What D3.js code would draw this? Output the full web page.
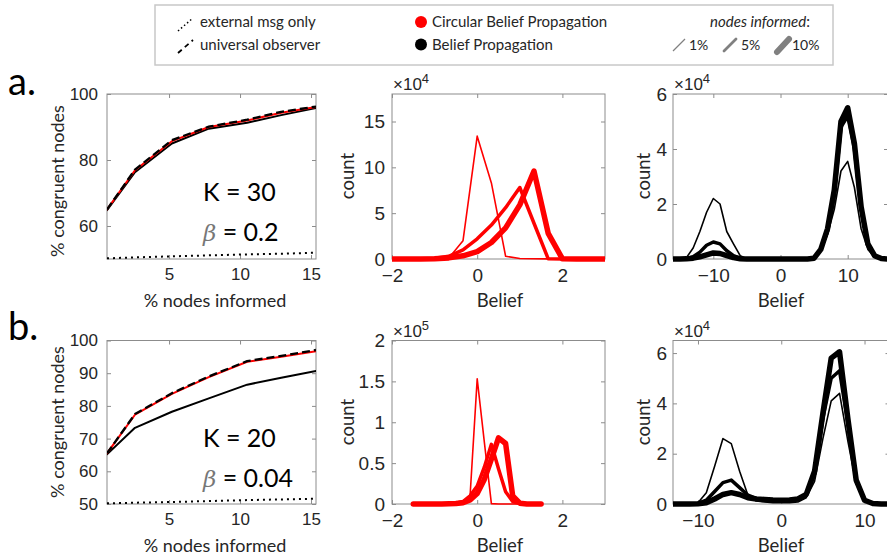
<!DOCTYPE html>
<html><head><meta charset="utf-8">
<script src="https://cdn.jsdelivr.net/npm/d3@7"></script>
<style>body{margin:0;background:#fff}svg{display:block}</style>
</head><body><svg id="c" width="887" height="559"></svg>
<script>
// ---------- DATA ----------
const pctInformed = [0.63, 2.6, 5.2, 7.8, 10.5, 12.9, 15.35];
// row a (K = 30, beta = 0.2)
const aBP  = [64.8, 76.3, 85.0, 89.5, 91.3, 93.6, 95.8];
const aCBP = [65.0, 76.9, 85.7, 90.0, 92.0, 94.3, 96.1];
const aUO  = [65.0, 77.1, 86.0, 90.1, 92.2, 94.6, 96.2];
const aExt = [50.2, 50.5, 50.8, 51.1, 51.4, 51.6, 51.9];
// row b (K = 20, beta = 0.04)
const bBP  = [65.2, 73.3, 78.2, 82.3, 86.5, 88.6, 90.7];
const bCBP = [65.5, 77.3, 83.7, 88.8, 93.5, 95.0, 96.7];
const bUO  = [65.5, 77.5, 83.9, 89.0, 93.7, 95.3, 97.1];
const bExt = [50.2, 50.4, 50.6, 50.9, 51.2, 51.4, 51.6];

// histograms, CBP row a (x10^4)
const aCbpBelief = [-2, -1.667, -1.333, -1, -0.667, -0.333, 0, 0.333, 0.667, 1, 1.333, 1.667, 2, 2.333, 2.667, 3];
const aCbp1  = [0, 0, 0, 0.01, 0.1, 2.0, 13.4, 8.3, 0.3, 0.05, 0.02, 0.01, 0, 0, 0, 0];
const aCbp5  = [0, 0, 0.02, 0.08, 0.3, 1.0, 2.2, 3.7, 5.6, 7.8, 3.9, 0.02, 0, 0, 0, 0];
const aCbp10 = [0, 0, 0.01, 0.04, 0.12, 0.35, 0.8, 1.8, 3.4, 5.9, 9.6, 2.8, 0.02, 0, 0, 0];
// histograms, BP row a (x10^4)
const aBpBelief = [-16,-15,-14,-13,-12,-11,-10,-9,-8,-7,-6,-5,-4,-3,-2,-1,0,1,2,3,4,5,6,7,8,9,10,11,12,13,14,15,16];
const aBp1  = [0,0,0.05,0.4,1.0,1.7,2.2,2.0,1.0,0.55,0.12,0.01,0,0,0,0,0,0,0,0,0,0.02,0.3,0.9,1.8,3.2,3.55,2.6,1.1,0.35,0.08,0.01,0];
const aBp5  = [0,0,0.01,0.08,0.25,0.5,0.62,0.55,0.3,0.12,0.03,0,0,0,0,0,0,0,0,0,0,0.03,0.35,1.0,2.3,4.8,5.2,4.0,1.8,0.5,0.1,0.02,0];
const aBp10 = [0,0,0.005,0.03,0.08,0.15,0.22,0.2,0.12,0.05,0.01,0,0,0,0,0,0,0,0,0,0,0.03,0.35,1.1,2.5,5.0,5.5,4.2,1.9,0.55,0.12,0.02,0];
// histograms, CBP row b (x10^5)
const bCbpBelief = [-1.5,-1.333,-1.167,-1,-0.833,-0.667,-0.5,-0.333,-0.167,0,0.167,0.333,0.5,0.667,0.833,1,1.167,1.333,1.5];
const bCbp1  = [0,0,0,0,0,0,0,0.002,0.1,1.53,0.76,0.005,0,0,0,0,0,0,0];
const bCbp5  = [0,0,0,0,0,0.003,0.01,0.03,0.1,0.22,0.45,0.73,0.43,0.15,0.03,0.005,0,0,0];
const bCbp10 = [0,0,0,0,0,0.002,0.005,0.015,0.05,0.13,0.3,0.55,0.81,0.74,0.1,0.01,0,0,0];
// histograms, BP row b (x10^4)
const bBpBelief = [-13,-12,-11,-10,-9,-8,-7,-6,-5,-4,-3,-2,-1,0,1,2,3,4,5,6,7,8,9,10,11,12,13];
const bBp1  = [0,0,0,0.05,0.45,1.5,2.6,2.4,1.3,0.35,0.12,0.08,0.05,0.05,0.05,0.08,0.25,0.9,2.6,4.1,4.4,2.5,0.8,0.15,0.02,0,0];
const bBp5  = [0,0,0,0.02,0.15,0.5,0.85,0.95,0.65,0.35,0.22,0.18,0.15,0.15,0.15,0.18,0.35,1.2,3.4,5.0,5.3,3.2,0.9,0.15,0.02,0,0];
const bBp10 = [0,0,0,0.01,0.05,0.2,0.38,0.45,0.38,0.25,0.2,0.18,0.16,0.15,0.16,0.2,0.38,1.3,3.6,5.8,6.05,3.4,0.95,0.15,0.02,0,0];

const pctTicks = [5, 10, 15];
const aCongTicks = [60, 80, 100];
const bCongTicks = [50, 60, 70, 80, 90, 100];
const cbpBeliefTicks = [-2, 0, 2];
const bpBeliefTicks = [-10, 0, 10];
const aCbpCountTicks = [0, 5, 10, 15];
const aBpCountTicks = [0, 2, 4, 6];
const bCbpCountTicks = [0, 0.5, 1, 1.5, 2];
const bBpCountTicks = [0, 2, 4, 6];

// ---------- DRAW ----------
const svg = d3.select("#c");
svg.append("rect").attr("width",887).attr("height",559).attr("fill","#fff");
const AX = "#8c8c8c", TXT = "#262626";
const tickFont = "'Liberation Sans', Arial, sans-serif";
const labFont = "Lato, 'Open Sans', sans-serif";
let clipId = 0;

function panel(o) {
  const x = d3.scaleLinear().domain(o.xd).range([o.x0, o.x1]);
  const y = d3.scaleLinear().domain(o.yd).range([o.y1, o.y0]);
  const g = svg.append("g");
  const id = "clip" + (clipId++);
  svg.append("clipPath").attr("id", id).append("rect")
    .attr("x", o.x0).attr("y", o.y0 - 3).attr("width", o.x1 - o.x0).attr("height", o.y1 - o.y0 + 6);
  const style = sel => {
    sel.attr("font-size", null).attr("font-family", null);
    sel.select(".domain").remove();
    sel.selectAll(".tick line").attr("stroke", AX);
    sel.selectAll("text").attr("fill", TXT).style("font-family", tickFont).style("font-size", o.tfs + "px");
  };
  g.append("g").attr("transform", `translate(0,${o.y1})`)
    .call(d3.axisBottom(x).tickValues(o.xt).tickSize(-4).tickPadding(o.xpad).tickFormat(d3.format("")))
    .call(style);
  g.append("g").attr("transform", `translate(0,${o.y0})`)
    .call(d3.axisTop(x).tickValues(o.xt).tickSize(-4).tickFormat(""))
    .call(style);
  g.append("g").attr("transform", `translate(${o.x0},0)`)
    .call(d3.axisLeft(y).tickValues(o.yt).tickSize(-4).tickPadding(o.ypad).tickFormat(d3.format("")))
    .call(style);
  g.append("g").attr("transform", `translate(${o.x1},0)`)
    .call(d3.axisRight(y).tickValues(o.yt).tickSize(-4).tickFormat(""))
    .call(style);
  g.append("rect").attr("x", o.x0).attr("y", o.y0).attr("width", o.x1 - o.x0).attr("height", o.y1 - o.y0)
    .attr("fill", "none").attr("stroke", AX).attr("stroke-width", 1);
  const plot = svg.append("g").attr("clip-path", `url(#${id})`);
  svg.append("text").attr("x", o.xlx).attr("y", o.y1 + 48)
    .attr("text-anchor", "middle").style("font-family", labFont).style("font-size", o.lfs + "px").attr("fill", TXT).text(o.xl);
  svg.append("text").attr("transform", `translate(${o.x0 - o.ylOff},${o.ylc}) rotate(-90)`)
    .attr("text-anchor", "middle").attr("dy", "0.35em").style("font-family", labFont).style("font-size", o.lfs + "px").attr("fill", TXT).text(o.yl);
  if (o.exp) {
    const t = svg.append("text").attr("x", o.x0 + 1).attr("y", o.y0 - 4).attr("fill", TXT)
      .style("font-family", tickFont).style("font-size", "17px");
    t.append("tspan").text("\u00d710");
    t.append("tspan").attr("dy", -7).style("font-size", "13px").text(o.exp);
  }
  return {x, y, plot};
}

function lines(p, xs, series) {
  series.forEach(s => {
    p.plot.append("path").datum(s.v)
      .attr("d", d3.line().x((d, i) => p.x(xs[i])).y(d => p.y(d)))
      .attr("fill", "none").attr("stroke", s.c).attr("stroke-width", s.w)
      .attr("stroke-dasharray", s.dash || null)
      .attr("stroke-linejoin", "round").attr("stroke-linecap", s.cap || "round");
  });
}

const rows = [{y0: 94, y1: 259}, {y0: 340.5, y1: 504}];

// Row a
const pA1 = panel({x0:107, x1:316, y0:rows[0].y0, y1:rows[0].y1, xd:[0.63,15.35], yd:[50,100], xt:pctTicks, yt:aCongTicks,
  xl:"% nodes informed", xlx:215, yl:"% congruent nodes", ylOff:49, ylc:181, tfs:17, lfs:18, xpad:9, ypad:9});
lines(pA1, pctInformed, [
  {v:aExt, c:"#000", w:2, dash:"2,4", cap:"butt"},
  {v:aBP, c:"#000", w:2},
  {v:aCBP, c:"#ff0000", w:2},
  {v:aUO, c:"#000", w:2.3, dash:"8,4", cap:"butt"}
]);
const pA2 = panel({x0:392, x1:605, y0:rows[0].y0, y1:rows[0].y1, xd:[-2,3], yd:[0,18], xt:cbpBeliefTicks, yt:aCbpCountTicks,
  xl:"Belief", xlx:500, yl:"count", ylOff:44, ylc:176, exp:"4", tfs:19, lfs:18.5, xpad:10, ypad:7});
lines(pA2, aCbpBelief, [
  {v:aCbp10, c:"#ff0000", w:5.5},
  {v:aCbp5, c:"#ff0000", w:3.5},
  {v:aCbp1, c:"#ff0000", w:1.6}
]);
const pA3 = panel({x0:673, x1:888, y0:rows[0].y0, y1:rows[0].y1, xd:[-16,16], yd:[0,6], xt:bpBeliefTicks, yt:aBpCountTicks,
  xl:"Belief", xlx:781, yl:"count", ylOff:29, ylc:176, exp:"4", tfs:19, lfs:18.5, xpad:10, ypad:6});
lines(pA3, aBpBelief, [
  {v:aBp10, c:"#000", w:5.5},
  {v:aBp5, c:"#000", w:3.5},
  {v:aBp1, c:"#000", w:1.6}
]);

// Row b
const pB1 = panel({x0:107, x1:316, y0:rows[1].y0, y1:rows[1].y1, xd:[0.63,15.35], yd:[50,100], xt:pctTicks, yt:bCongTicks,
  xl:"% nodes informed", xlx:215, yl:"% congruent nodes", ylOff:49, ylc:422, tfs:17, lfs:18, xpad:9, ypad:9});
lines(pB1, pctInformed, [
  {v:bExt, c:"#000", w:2, dash:"2,4", cap:"butt"},
  {v:bBP, c:"#000", w:2},
  {v:bCBP, c:"#ff0000", w:2},
  {v:bUO, c:"#000", w:2.3, dash:"8,4", cap:"butt"}
]);
const pB2 = panel({x0:392, x1:605, y0:rows[1].y0, y1:rows[1].y1, xd:[-2,3], yd:[0,2], xt:cbpBeliefTicks, yt:bCbpCountTicks,
  xl:"Belief", xlx:500, yl:"count", ylOff:44, ylc:422, exp:"5", tfs:19, lfs:18.5, xpad:10, ypad:7});
lines(pB2, bCbpBelief, [
  {v:bCbp10, c:"#ff0000", w:5.5},
  {v:bCbp5, c:"#ff0000", w:3.5},
  {v:bCbp1, c:"#ff0000", w:1.6}
]);
const pB3 = panel({x0:673, x1:889.5, y0:rows[1].y0, y1:rows[1].y1, xd:[-13,13], yd:[0,6.5], xt:bpBeliefTicks, yt:bBpCountTicks,
  xl:"Belief", xlx:781, yl:"count", ylOff:29, ylc:422, exp:"4", tfs:19, lfs:18.5, xpad:10, ypad:6});
lines(pB3, bBpBelief, [
  {v:bBp10, c:"#000", w:5.5},
  {v:bBp5, c:"#000", w:3.5},
  {v:bBp1, c:"#000", w:1.6}
]);

// annotations
function annot(px, yK, kTxt, bTxt) {
  svg.append("text").attr("x", px).attr("y", yK).style("font-family", labFont).style("font-size", "25px").attr("fill", "#000").text(kTxt);
  const t = svg.append("text").attr("x", px).attr("y", yK + 40).style("font-family", labFont).style("font-size", "25px").attr("fill", "#000");
  t.append("tspan").attr("fill", "#777").style("font-style", "italic").style("font-family", "'DejaVu Serif', serif").style("font-size", "23px").text("\u03b2");
  t.append("tspan").text(" = " + bTxt);
}
annot(203, 201, "K = 30", "0.2");
annot(203, 447, "K = 20", "0.04");

svg.append("text").attr("x", 8).attr("y", 95).style("font-family", labFont).style("font-size", "38px").attr("fill", "#000").text("a.");
svg.append("text").attr("x", 8).attr("y", 340).style("font-family", labFont).style("font-size", "38px").attr("fill", "#000").text("b.");

// legend
const lg = svg.append("g");
lg.append("rect").attr("x", 155).attr("y", 5).attr("width", 678).attr("height", 60).attr("fill", "#fff").attr("stroke", "#c8c8c8").attr("stroke-width", 1.5);
const lf = s => s.style("font-family", labFont).style("font-size", "15px").attr("fill", TXT);
lg.append("line").attr("x1", 178).attr("y1", 31).attr("x2", 193).attr("y2", 18).attr("stroke", "#000").attr("stroke-width", 1.5).attr("stroke-dasharray", "1.5,2.5");
lg.append("text").attr("x", 200).attr("y", 27).call(lf).text("external msg only");
lg.append("line").attr("x1", 178).attr("y1", 53).attr("x2", 193).attr("y2", 40).attr("stroke", "#000").attr("stroke-width", 1.8).attr("stroke-dasharray", "5,4");
lg.append("text").attr("x", 200).attr("y", 50).call(lf).text("universal observer");
lg.append("circle").attr("cx", 421).attr("cy", 22).attr("r", 6).attr("fill", "#ff0000");
lg.append("text").attr("x", 432).attr("y", 27).call(lf).text("Circular Belief Propagation");
lg.append("circle").attr("cx", 421).attr("cy", 44.5).attr("r", 6).attr("fill", "#000");
lg.append("text").attr("x", 432).attr("y", 49.5).call(lf).text("Belief Propagation");
const ni = lg.append("text").attr("x", 760).attr("y", 27).attr("text-anchor", "middle").call(lf);
ni.append("tspan").style("font-style", "italic").text("nodes informed");
ni.append("tspan").text(":");
lg.append("line").attr("x1", 673).attr("y1", 51).attr("x2", 685).attr("y2", 39).attr("stroke", "#808080").attr("stroke-width", 1.2);
lg.append("text").attr("x", 689).attr("y", 49.5).call(lf).style("font-size", "14px").text("1%");
lg.append("line").attr("x1", 724).attr("y1", 51).attr("x2", 736).attr("y2", 39).attr("stroke", "#808080").attr("stroke-width", 2.8).attr("stroke-linecap", "round");
lg.append("text").attr("x", 741).attr("y", 49.5).call(lf).style("font-size", "14px").text("5%");
lg.append("line").attr("x1", 777).attr("y1", 52).attr("x2", 789).attr("y2", 39).attr("stroke", "#808080").attr("stroke-width", 6).attr("stroke-linecap", "round");
lg.append("text").attr("x", 792).attr("y", 49.5).call(lf).style("font-size", "14px").text("10%");
</script></body></html>
